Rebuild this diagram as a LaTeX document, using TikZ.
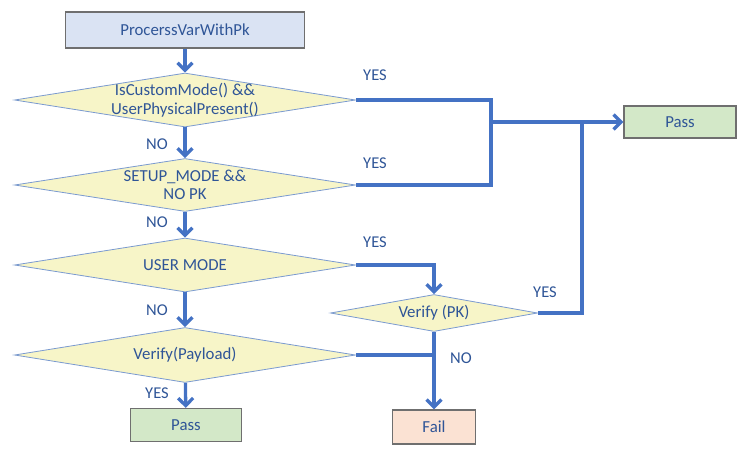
\documentclass[tikz,border=0pt]{standalone}
\usepackage{fontspec}
\setmainfont{Carlito}
\usetikzlibrary{shapes.geometric,arrows.meta}
\definecolor{txt}{HTML}{2F5597}
\definecolor{ln}{HTML}{4472C4}
\definecolor{dfill}{HTML}{F7F5C8}
\definecolor{dline}{HTML}{7A9AD0}
\definecolor{bfill}{HTML}{DAE3F3}
\definecolor{gfill}{HTML}{D3E8C8}
\definecolor{ffill}{HTML}{FBE2D3}
\definecolor{bord}{HTML}{6F6F6F}
\tikzset{
  dec/.style={diamond, draw=dline, line width=0.8pt, fill=dfill, inner sep=0pt},
  dtxt/.style={text=txt, align=center, inner sep=0pt, font=\fontsize{16.8}{18.5}\selectfont},
  boxn/.style={rectangle, draw=bord, line width=1.2pt, inner sep=0pt, text=txt, font=\fontsize{16.8}{18.5}\selectfont},
  conn/.style={draw=ln, line width=3.3pt},
  arr/.style={conn, -{Straight Barb[length=7.5pt,width=15pt]}},
  lbl/.style={text=txt, font=\fontsize{16.5}{18}\selectfont}
}
\begin{document}
\begin{tikzpicture}[x=1pt,y=-1pt]
\useasboundingbox (0,0) rectangle (748,453);
\node[boxn, fill=bfill, minimum width=239pt, minimum height=36pt] (start) at (185,30) {ProcerssVarWithPk};
\node[dec, minimum width=341pt, minimum height=54pt, aspect=6.3] (d1) at (185,100) {};
\node[dtxt] (t1) at (d1.center) {IsCustomMode() \&\&\\UserPhysicalPresent()};
\node[dec, minimum width=341pt, minimum height=53pt, aspect=6.4] (d2) at (185,185) {};
\node[dtxt] (t2) at (d2.center) {SETUP\_MODE \&\&\\NO PK};
\node[dec, minimum width=341pt, minimum height=54pt, aspect=6.3] (d3) at (185,265) {};
\node[dtxt] (t3) at (d3.center) {USER MODE};
\node[dec, minimum width=341pt, minimum height=55pt, aspect=6.2] (d4) at (185,355) {};
\node[dtxt] (t4) at (d4.center) {Verify(Payload)};
\node[dec, minimum width=207pt, minimum height=37pt, aspect=5.6] (vpk) at (434,313) {};
\node[dtxt] (t5) at (vpk.center) {Verify (PK)};
\node[boxn, fill=gfill, minimum width=111pt, minimum height=33pt] (pass1) at (186,425) {Pass};
\node[boxn, fill=ffill, minimum width=83pt, minimum height=34pt] (fail) at (434,427) {Fail};
\node[boxn, fill=gfill, minimum width=112pt, minimum height=32pt] (pass2) at (680,122) {Pass};

\coordinate (j1) at (491,100);
\coordinate (j2) at (491,185);
\coordinate (jm) at (491,122);
\coordinate (jr) at (582,122);
\coordinate (jv) at (582,313);

\draw[arr] (start) -- (d1);
\draw[arr] (d1) -- (d2);
\draw[arr] (d2) -- (d3);
\draw[arr] (d3) -- (d4);
\draw[arr] (d4) -- (pass1);
\draw[conn, line join=miter] (d1.east) -- (j1) -- (j2) -- (d2.east);
\draw[arr] (jm) -- (pass2.west);
\draw[conn, line join=miter] (vpk.east) -- (jv) -- (jr);
\draw[arr, line join=miter] (d3.east) -| (vpk.north);
\draw[arr] (vpk.south) -- (fail.north);
\draw[conn] (d4.east) -- (vpk.south |- d4.east);

\node[lbl] (y1) at (375,75) {YES};
\node[lbl] (y2) at (375,163) {YES};
\node[lbl] (y3) at (375,242) {YES};
\node[lbl] (y4) at (545,292) {YES};
\node[lbl] (n1) at (157,144) {NO};
\node[lbl] (n2) at (157,222) {NO};
\node[lbl] (n3) at (157,310) {NO};
\node[lbl] (y5) at (157,393) {YES};
\node[lbl] (n4) at (461,358) {NO};
\end{tikzpicture}
\end{document}
